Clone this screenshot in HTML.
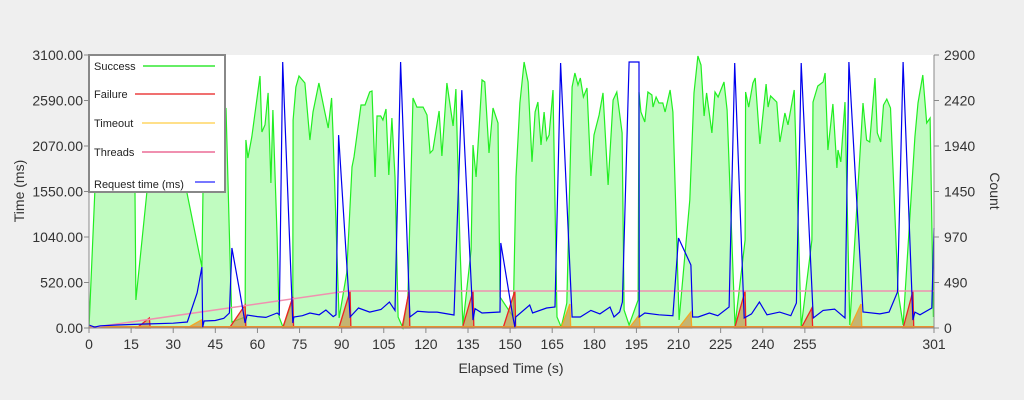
<!DOCTYPE html>
<html><head><meta charset="utf-8"><style>
body{margin:0;background:#efefef;}
svg{display:block;font-family:"Liberation Sans",sans-serif;}
</style></head><body>
<svg id="c" width="1024" height="400">
<rect x="0" y="0" width="1024" height="400" fill="#efefef"/>
<rect x="89" y="55" width="845" height="273" fill="#ffffff"/>
<g id="marks"></g>
<g id="axes"></g>
<text x="24" y="191" transform="rotate(-90 24 191)" text-anchor="middle" font-size="14" fill="#333">Time (ms)</text>
<text x="990" y="191" transform="rotate(90 990 191)" text-anchor="middle" font-size="14" fill="#333">Count</text>
<text x="511" y="373" text-anchor="middle" font-size="14" fill="#333">Elapsed Time (s)</text>
<g>
<rect x="89" y="55" width="136" height="137" fill="#fff" stroke="#888" stroke-width="2"/>
<g><text x="94" y="70" font-size="11" fill="#222">Success</text><line x1="143" y1="66" x2="215" y2="66" stroke="#66ee66" stroke-width="2"/></g>
<g><text x="94" y="98" font-size="11" fill="#222">Failure</text><line x1="135" y1="94" x2="215" y2="94" stroke="#f07070" stroke-width="2"/></g>
<g><text x="94" y="127" font-size="11" fill="#222">Timeout</text><line x1="142" y1="123" x2="215" y2="123" stroke="#ffe08a" stroke-width="2"/></g>
<g><text x="94" y="156" font-size="11" fill="#222">Threads</text><line x1="142" y1="152" x2="215" y2="152" stroke="#f090b0" stroke-width="2"/></g>
<g><text x="94" y="188" font-size="11" fill="#222">Request time (ms)</text><line x1="195" y1="182" x2="215" y2="182" stroke="#7777ff" stroke-width="2"/></g>
</g>
</svg>
<script>
const succT=[0,2.1,5,10,14,16.4,16.7,20.6,24,28,32,34.9,40.2,40.6,44.2,48.8,50.2,50.9,55.6,55.9,56.6,58,60.9,61.6,62.7,63.8,64.8,65.5,67,67.7,69.1,72.6,72.7,73.7,74.8,76.9,78.7,79.8,81.9,84,85.2,86.4,86.9,89.1,91.8,93.7,94.4,96.9,98.3,100,100.8,101.9,102.6,103.9,104.7,105.8,106.8,107.9,109,110.1,111.8,113.6,115.4,116.8,119,120.4,121.5,122.5,124.7,125.7,127.5,129.7,130.7,132.2,133.2,136.1,136.8,137.9,140,141,142.5,143.9,145.7,146.4,151.1,152.1,153.5,155,156.4,157.8,158.9,159.9,161,162.1,163,163.9,165.3,166.7,168.2,170.2,172.1,173.1,174.2,175,176.1,177.4,178.8,179.9,181.7,183.1,184.9,186.7,188,189.9,190.6,192.4,195.6,195.9,196.6,198,199.1,200.5,200.9,202,203,204.4,205.2,207,208,210.2,214,215.5,216.9,218,219.1,220,221.9,223,224.1,226.2,227.3,230.1,233.7,233.9,235,236.5,237.3,239,241.2,241.9,242.8,245,246.1,247.9,249,251.2,253.7,257.5,257.9,259.6,261.5,262.2,263.2,265,266.4,266.8,267.8,269.3,271,275.7,277,278.1,280,280.8,282,283,284.2,285.5,288.2,290,294.2,295.3,297,298.4,299.6,300.8];
const succV=[0,1466,2400,2500,2200,1434,297,1434,2400,2600,2200,1434,648,1466,2030,2337,797,64,117,1997,1806,2030,2677,2082,2157,2497,1540,2316,967,117,10,297,2210,2560,2677,2603,1997,2295,2603,2295,2125,2443,2072,106,584,1710,1817,2369,2369,2507,2518,1604,2252,2252,2210,2326,1625,2231,1604,117,0,329,2443,2347,2347,2263,1859,1891,2305,1827,2603,2146,2539,829,32,829,1944,1604,2635,2613,1859,2337,2178,329,117,1604,2390,2826,2613,1764,2295,2400,1944,2295,1997,2050,2528,117,10,265,2560,2709,2581,2656,2454,2549,1615,2050,2263,2497,1519,2422,2507,2072,191,32,297,2507,2295,2188,2507,2475,2347,2454,2390,2390,2295,2528,2295,85,1360,2497,2890,2794,2252,2497,2072,2507,2454,2613,2316,21,935,2507,2347,2603,2656,1955,2592,2347,2465,2400,1976,2284,2157,2528,10,935,2400,2571,2613,2709,1891,2379,1700,1891,1764,2400,32,2390,1997,1976,2656,2072,1976,2369,2432,2337,382,32,2030,2390,2688,2178,2231,117];
const reqT=[0,2,4,10,20,30,35,38.5,40.2,40.5,41,45,48,50,50.9,53.8,55.6,56.3,60,63,67,67.8,69,72.6,73,76,78.7,82,84.4,87,88,88.9,93,96,100,104,107,109,111,114.3,117,121,124,130,132.8,136.8,137.5,140,146.4,146.7,151,151.7,152,157,158,163,166,168,172.1,175,178.8,182,185.6,187,189,190,192.4,195.9,196,198,203,208,210,214.4,215,217,221,224,228,230,233.4,236,238.8,241.5,246,250,252,253.7,258,261.5,265.6,269.3,270.7,275.7,281.7,285,288,290,293.5,294.2,296,300.2,301];
const reqV=[34,10,25,34,45,55,68,397,693,10,80,85,110,170,908,397,57,148,130,120,170,150,3020,57,125,140,170,150,204,130,150,2190,125,227,180,210,295,200,3020,125,190,180,180,148,2700,90,220,170,182,965,125,10,125,261,170,227,238,3009,125,125,200,160,238,125,182,295,3020,3020,125,170,150,140,1022,715,125,125,170,140,238,3009,113,160,295,150,180,140,284,3009,113,200,215,113,3020,182,160,180,409,3020,90,180,150,227,1135];
const thrT=[0,92,301];
const thrV=[0,393,393];
const failStart=[17,50,69,89,111.5,133,147.5,230,253.7,290];
const failPeakT=[21.5,55.6,72.6,93,114,136.8,151.7,233.7,257.5,293.5];
const failPeakV=[106,244,330,393,393,393,393,393,212,393];
const toStart=[35,168.2,192.4,210,271];
const toPeakT=[40,171.3,196,214.4,275];
const toPeakV=[85,255,138,170,255];
const xTicks=[0,15,30,45,60,75,90,105,120,135,150,165,180,195,210,225,240,255,301];
const yLeftTicks=["0.00","520.00","1040.00","1550.00","2070.00","2590.00","3100.00"];
const yRightTicks=["0","490","970","1450","1940","2420","2900"];

const X0=89,X1=934,Y0=328,Y1=55;
const xS=t=>X0+t*(X1-X0)/301;
const yL=v=>Y0-Math.min(v,3100)*(Y0-Y1)/3100;
const yR=v=>Y0-Math.min(v,2900)*(Y0-Y1)/2900;
const NS="http://www.w3.org/2000/svg";
const marks=document.getElementById('marks'), axes=document.getElementById('axes');
function mk(tag,attrs,parent){const e=document.createElementNS(NS,tag);for(const k in attrs)e.setAttribute(k,attrs[k]);parent.appendChild(e);return e;}
function pts(T,V,ys){return T.map((t,i)=>xS(t).toFixed(1)+","+ys(V[i]).toFixed(1)).join(" ");}

let p=mk('polygon',{points:xS(0)+","+Y0+" "+pts(succT,succV,yR)+" "+xS(301)+","+Y0,fill:"#c0fcc0"},marks);


p=mk('polyline',{points:pts(succT,succV,yR),fill:"none",stroke:"#22ee22","stroke-width":1.2},marks);



function tri(S,PT,PV,col,name){for(let i=0;i<S.length;i++){
 const q=mk('polygon',{points:`${xS(S[i])},${Y0} ${xS(PT[i])},${yR(PV[i])} ${xS(PT[i])+0.8},${Y0}`,fill:"rgba(200,150,80,0.7)",stroke:col,"stroke-width":1.3},marks);
 
 }}
tri(failStart,failPeakT,failPeakV,"#ee2222",'failure-peak');
tri(toStart,toPeakT,toPeakV,"#f5a623",'timeout-peak');

p=mk('line',{x1:X0,y1:Y0-1,x2:X1,y2:Y0-1,stroke:"#e89030","stroke-width":2},marks);


p=mk('polyline',{points:pts(thrT,thrV,yR),fill:"none",stroke:"#f090b0","stroke-width":1.5},marks);


p=mk('polyline',{points:pts(reqT,reqV,yL),fill:"none",stroke:"#0000ee","stroke-width":1.2},marks);



p=mk('line',{x1:X0,y1:Y1,x2:X0,y2:Y0,stroke:"#888","stroke-width":1},axes);


p=mk('line',{x1:X1,y1:Y1,x2:X1,y2:Y0,stroke:"#888","stroke-width":1},axes);


p=mk('line',{x1:X0,y1:Y0,x2:X1,y2:Y0,stroke:"#888","stroke-width":1},axes);


xTicks.forEach(t=>{const x=xS(t);
 mk('line',{x1:x,y1:Y0,x2:x,y2:Y0+5,stroke:"#888"},axes);
 const tx=mk('text',{x:x,y:Y0+21,"text-anchor":"middle","font-size":14,fill:"#333"},axes);tx.textContent=t;
 
 });
yLeftTicks.forEach((s,i)=>{const y=Y0-i*(Y0-Y1)/6;
 mk('line',{x1:X0-5,y1:y,x2:X0,y2:y,stroke:"#888"},axes);
 const tx=mk('text',{x:X0-6,y:y+5,"text-anchor":"end","font-size":14,fill:"#333"},axes);tx.textContent=s;
 
 });
yRightTicks.forEach((s,i)=>{const y=Y0-i*(Y0-Y1)/6;
 mk('line',{x1:X1,y1:y,x2:X1+5,y2:y,stroke:"#888"},axes);
 const tx=mk('text',{x:X1+10,y:y+5,"text-anchor":"start","font-size":14,fill:"#333"},axes);tx.textContent=s;
 
 });
</script>
</body></html>
